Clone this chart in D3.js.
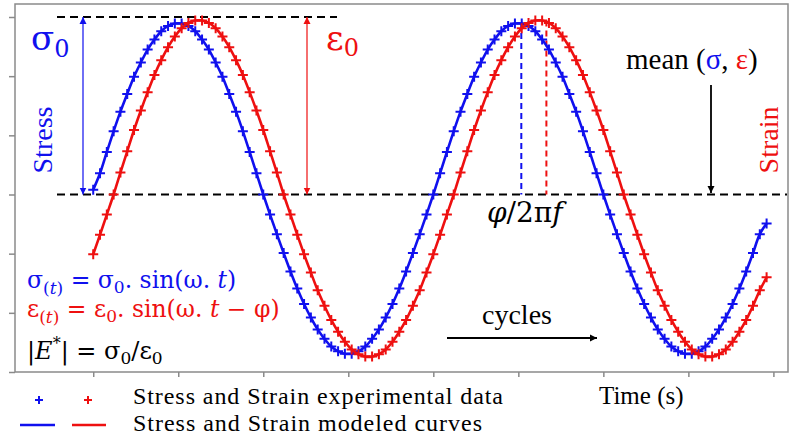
<!DOCTYPE html>
<html lang="en">
<head>
  <meta charset="UTF-8" />
  <title>Stress / Strain</title>
  <script src="https://d3js.org/d3.v7.min.js"></script>
  <style>
    body { margin: 0; background: #fff; }
    svg { display: block; }
    .axis path, .axis line { stroke: #8a8a8a; stroke-width: 1.5; }
  </style>
</head>
<body>
<svg width="791" height="438"></svg>
<script>
// time of first sample and sampling step (s)
const tStart = 1, tStep = 0.08;

const stress = [
  0.8, 3.6, 7.2, 10.7, 14.0, 17.0, 19.9, 22.3, 24.5, 26.2,
  27.6, 28.5, 28.9, 28.9, 28.5, 27.6, 26.2, 24.5, 22.3, 19.9,
  17.0, 14.0, 10.7, 7.2, 3.6, 0, -3.4, -6.7, -9.9, -13.0,
  -15.9, -18.5, -20.8, -22.8, -24.4, -25.7, -26.5, -26.9, -26.9, -26.5,
  -25.7, -24.4, -22.8, -20.8, -18.5, -15.9, -13.0, -9.9, -6.7, -3.4,
  0, 3.6, 7.2, 10.7, 14.0, 17.0, 19.9, 22.3, 24.5, 26.2,
  27.6, 28.5, 28.9, 28.9, 28.5, 27.6, 26.2, 24.5, 22.3, 19.9,
  17.0, 14.0, 10.7, 7.2, 3.6, 0, -3.4, -6.7, -9.9, -13.0,
  -15.9, -18.5, -20.8, -22.8, -24.4, -25.7, -26.5, -26.9, -26.9, -26.5,
  -25.7, -24.4, -22.8, -20.8, -18.5, -15.9, -13.0, -9.9, -6.7, -4.9
];

const strain = [
  -10.1, -6.8, -3.4, 0, 3.7, 7.3, 10.9, 14.2, 17.3, 20.2,
  22.7, 24.9, 26.7, 28.1, 29.0, 29.4, 29.4, 29.0, 28.1, 26.7,
  24.9, 22.7, 20.2, 17.3, 14.2, 10.9, 7.3, 3.7, 0, -3.4,
  -6.8, -10.1, -13.2, -16.2, -18.8, -21.2, -23.2, -24.9, -26.2, -27.0,
  -27.4, -27.4, -27.0, -26.2, -24.9, -23.2, -21.2, -18.8, -16.2, -13.2,
  -10.1, -6.8, -3.4, 0, 3.7, 7.3, 10.9, 14.2, 17.3, 20.2,
  22.7, 24.9, 26.7, 28.1, 29.0, 29.4, 29.4, 29.0, 28.1, 26.7,
  24.9, 22.7, 20.2, 17.3, 14.2, 10.9, 7.3, 3.7, 0, -3.4,
  -6.8, -10.1, -13.2, -16.2, -18.8, -21.2, -23.2, -24.9, -26.2, -27.0,
  -27.4, -27.4, -27.0, -26.2, -24.9, -23.2, -21.2, -18.8, -16.2, -14.0
];

const yTicks = [-30, -20, -10, 0, 10, 20, 30];
const xTicks = [1, 2, 3, 4, 5, 6, 7, 8, 9];
const amplitude = 30;            // sigma0 / epsilon0 level
const peakStress = 6.035, peakStrain = 6.33;  // times of the peaks marked

const BLUE = "#1010ee", RED = "#ee1010";
const SERIF = "'Liberation Serif', 'Times New Roman', Times, serif";
const MATH = "'DejaVu Serif', serif";

const svg = d3.select("svg");
svg.append("rect").attr("width", 791).attr("height", 438).attr("fill", "#fff");

const x = d3.scaleLinear().domain([0.08, 9.16]).range([15, 787]);
const y = d3.scaleLinear().domain([-30, 30]).range([372, 17]);

// arrow heads
const defs = svg.append("defs");
[["b", BLUE], ["r", RED], ["k", "#000"]].forEach(([id, c]) => {
  defs.append("marker")
    .attr("id", "arr-" + id)
    .attr("viewBox", "0 0 10 10").attr("refX", 10).attr("refY", 5)
    .attr("markerWidth", 7).attr("markerHeight", 8)
    .attr("markerUnits", "userSpaceOnUse")
    .attr("orient", "auto-start-reverse")
    .append("path").attr("d", "M0,0L10,5L0,10Z").attr("fill", c);
});

// frame + axes
svg.append("rect")
  .attr("x", 15).attr("y", 4).attr("width", 773).attr("height", 368)
  .attr("fill", "none").attr("stroke", "#8a8a8a").attr("stroke-width", 1.5);

svg.append("g").attr("class", "axis")
  .attr("transform", "translate(15,0)")
  .call(d3.axisLeft(y).tickValues(yTicks).tickSize(6).tickSizeOuter(0).tickFormat(""));

svg.append("g").attr("class", "axis")
  .attr("transform", "translate(0,372)")
  .call(d3.axisBottom(x).tickValues(xTicks).tickSize(5).tickSizeOuter(0).tickFormat(""));
svg.selectAll(".axis .domain").remove();

// dashed reference lines
svg.append("line")
  .attr("x1", 57).attr("x2", 337).attr("y1", y(amplitude)).attr("y2", y(amplitude))
  .attr("stroke", "#000").attr("stroke-width", 2).attr("stroke-dasharray", "8,5");
svg.append("line")
  .attr("x1", 57).attr("x2", 787).attr("y1", y(0)).attr("y2", y(0))
  .attr("stroke", "#000").attr("stroke-width", 2).attr("stroke-dasharray", "8,5");

svg.append("line")
  .attr("x1", x(peakStress)).attr("x2", x(peakStress)).attr("y1", y(29)).attr("y2", y(0))
  .attr("stroke", BLUE).attr("stroke-width", 2).attr("stroke-dasharray", "6,4");
svg.append("line")
  .attr("x1", x(peakStrain)).attr("x2", x(peakStrain)).attr("y1", y(29.4)).attr("y2", y(0))
  .attr("stroke", RED).attr("stroke-width", 2).attr("stroke-dasharray", "6,4");

// amplitude arrows
[[83, BLUE, "b"], [307, RED, "r"]].forEach(([ax, c, id]) => {
  svg.append("line")
    .attr("x1", ax).attr("x2", ax).attr("y1", y(amplitude)).attr("y2", y(0))
    .attr("stroke", c).attr("stroke-width", 1.2)
    .attr("marker-start", `url(#arr-${id})`).attr("marker-end", `url(#arr-${id})`);
});

// curves and experimental points
const tOf = i => tStart + i * tStep;
const line = d3.line().x((d, i) => x(tOf(i))).y(d => y(d)).curve(d3.curveCatmullRom);
const cross = s => `M${-s},0H${s}M0,${-s}V${s}`;

[[stress, BLUE], [strain, RED]].forEach(([data, c]) => {
  svg.append("path").datum(data)
    .attr("d", line).attr("fill", "none")
    .attr("stroke", c).attr("stroke-width", 2.6);
  svg.append("g").selectAll("path")
    .data(data).join("path")
    .attr("transform", (d, i) => `translate(${x(tOf(i))},${y(d)})`)
    .attr("d", cross(5))
    .attr("stroke", c).attr("stroke-width", 2);
});

// labels
const txt = (font) => svg.append("text").style("font-family", font);

const sig0 = txt(MATH).attr("x", 31).attr("y", 50).attr("fill", BLUE).attr("font-size", 34);
sig0.append("tspan").text("σ");
sig0.append("tspan").attr("font-size", 24).attr("dy", 7).text("0");

const eps0 = txt(MATH).attr("x", 326).attr("y", 50).attr("fill", RED).attr("font-size", 34);
eps0.append("tspan").text("ε");
eps0.append("tspan").attr("font-size", 24).attr("dy", 6).text("0");

txt(SERIF).attr("transform", "translate(52,140) rotate(-90)")
  .attr("text-anchor", "middle").attr("font-size", 28).attr("fill", BLUE).text("Stress");
txt(SERIF).attr("transform", "translate(778,140) rotate(-90)")
  .attr("text-anchor", "middle").attr("font-size", 28).attr("fill", RED).text("Strain");

const mean = txt(SERIF).attr("x", 626).attr("y", 69).attr("font-size", 29).attr("fill", "#000");
mean.append("tspan").text("mean (");
mean.append("tspan").attr("fill", BLUE).text("σ");
mean.append("tspan").text(", ");
mean.append("tspan").attr("fill", RED).text("ε");
mean.append("tspan").text(")");

svg.append("line")
  .attr("x1", 711).attr("x2", 711).attr("y1", 85).attr("y2", 193)
  .attr("stroke", "#000").attr("stroke-width", 1.8).attr("marker-end", "url(#arr-k)");

const phi = txt(MATH).attr("x", 487).attr("y", 222).attr("font-size", 28).attr("fill", "#000");
phi.append("tspan").attr("font-style", "italic").text("φ");
phi.append("tspan").text("/2π");
phi.append("tspan").attr("font-style", "italic").text("f");

txt(SERIF).attr("x", 482).attr("y", 324).attr("font-size", 28).text("cycles");
svg.append("line")
  .attr("x1", 447).attr("x2", 597).attr("y1", 338).attr("y2", 338)
  .attr("stroke", "#000").attr("stroke-width", 2).attr("marker-end", "url(#arr-k)");

// formulas
const f1 = txt(MATH).attr("x", 27).attr("y", 288).attr("font-size", 23.5).attr("fill", BLUE);
f1.append("tspan").text("σ");
f1.append("tspan").attr("font-size", 17).attr("dy", 6).text("(");
f1.append("tspan").attr("font-size", 17).attr("font-style", "italic").text("t");
f1.append("tspan").attr("font-size", 17).text(")");
f1.append("tspan").attr("dy", -6).text(" = σ");
f1.append("tspan").attr("font-size", 17).attr("dy", 5).text("0");
f1.append("tspan").attr("dy", -5).text(". sin(ω. ");
f1.append("tspan").attr("font-style", "italic").text("t");
f1.append("tspan").text(")");

const f2 = txt(MATH).attr("x", 27).attr("y", 317).attr("font-size", 23.5).attr("fill", RED);
f2.append("tspan").text("ε");
f2.append("tspan").attr("font-size", 17).attr("dy", 6).text("(");
f2.append("tspan").attr("font-size", 17).attr("font-style", "italic").text("t");
f2.append("tspan").attr("font-size", 17).text(")");
f2.append("tspan").attr("dy", -6).text(" = ε");
f2.append("tspan").attr("font-size", 17).attr("dy", 5).text("0");
f2.append("tspan").attr("dy", -5).text(". sin(ω. ");
f2.append("tspan").attr("font-style", "italic").text("t");
f2.append("tspan").text(" − φ)");

const f3 = txt(MATH).attr("x", 27).attr("y", 359).attr("font-size", 24).attr("fill", "#000");
f3.append("tspan").text("|");
f3.append("tspan").attr("font-style", "italic").text("E");
f3.append("tspan").attr("font-size", 16).attr("dy", -10).text("*");
f3.append("tspan").attr("dy", 10).text("| = σ");
f3.append("tspan").attr("font-size", 17).attr("dy", 5).text("0");
f3.append("tspan").attr("dy", -5).text("/ε");
f3.append("tspan").attr("font-size", 17).attr("dy", 5).text("0");

// legend
svg.append("path").attr("transform", "translate(39,400)").attr("d", cross(4))
  .attr("stroke", BLUE).attr("stroke-width", 2);
svg.append("path").attr("transform", "translate(88,400)").attr("d", cross(4))
  .attr("stroke", RED).attr("stroke-width", 2);
svg.append("line").attr("x1", 20).attr("x2", 55).attr("y1", 425).attr("y2", 425)
  .attr("stroke", BLUE).attr("stroke-width", 2.6);
svg.append("line").attr("x1", 72).attr("x2", 106).attr("y1", 425).attr("y2", 425)
  .attr("stroke", RED).attr("stroke-width", 2.6);

txt(SERIF).attr("x", 133).attr("y", 404)
  .attr("font-size", 24).attr("textLength", 370).attr("lengthAdjust", "spacing")
  .text("Stress and Strain experimental data");
txt(SERIF).attr("x", 133).attr("y", 431)
  .attr("font-size", 24).attr("textLength", 349).attr("lengthAdjust", "spacing")
  .text("Stress and Strain modeled curves");
txt(SERIF).attr("x", 599).attr("y", 404).attr("font-size", 25).text("Time (s)");
</script>
</body>
</html>
